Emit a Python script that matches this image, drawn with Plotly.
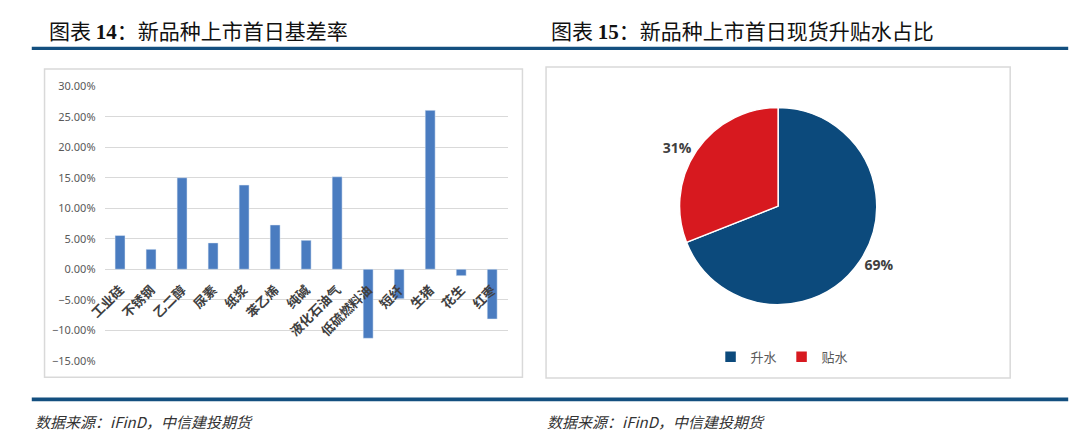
import plotly.graph_objects as go

# dados do gráfico 14: base no primeiro dia de listagem
categorias = ['工业硅', '不锈钢', '乙二醇', '尿素', '纸浆', '苯乙烯', '纯碱',
              '液化石油气', '低硫燃料油', '短纤', '生猪', '花生', '红枣']
base_pct = [0.0553, 0.0326, 0.1500, 0.0432, 0.1380, 0.0726, 0.0474,
            0.1516, -0.1132, -0.0484, 0.2605, -0.0105, -0.0816]

# dados do gráfico 15: proporção premium / desconto
rotulos_pie = ['升水', '贴水']
valores_pie = [69, 31]

W, H = 1080, 446


def px(x):
    return x / W


def py(y):
    return 1 - y / H


fig = go.Figure()

fig.add_trace(go.Bar(
    x=categorias, y=base_pct,
    marker_color='#4a7cc0',
    showlegend=False,
    xaxis='x', yaxis='y',
))

fig.add_trace(go.Pie(
    labels=rotulos_pie, values=valores_pie,
    sort=False, direction='clockwise', rotation=0,
    marker=dict(colors=['#0c4a7c', '#d7191f'], line=dict(color='white', width=1.5)),
    textinfo='percent', textposition='outside',
    texttemplate='%{percent:.0%}',
    textfont=dict(family='Open Sans', size=14, color='#404040', weight='bold'),
    domain=dict(x=[px(671), px(875)], y=[py(307), py(103)]),
    hoverinfo='label+percent',
))

fig.update_layout(
    width=W, height=H,
    margin=dict(l=0, r=0, t=0, b=0),
    paper_bgcolor='white', plot_bgcolor='white',
    bargap=0.68,
    xaxis=dict(
        domain=[px(88), px(498)],
        anchor='free', position=py(270),
        tickangle=-45, showgrid=False, showline=False, ticks='',
        ticklabelstandoff=10,
        tickfont=dict(family='Noto Sans CJK SC', size=13, color='#404040', weight='bold'),
    ),
    yaxis=dict(
        domain=[py(365), py(81)],
        range=[-0.15, 0.30], dtick=0.05, tickformat='.2%',
        showgrid=True, gridcolor='#d9d9d9', gridwidth=1,
        zeroline=True, zerolinecolor='#d9d9d9', zerolinewidth=1,
        showline=False, ticks='', ticklabelstandoff=8,
        tickfont=dict(family='Noto Sans', size=11, color='#595959'),
    ),
    legend=dict(
        orientation='h', x=px(777), xanchor='center', y=py(361), yanchor='middle',
        font=dict(family='Noto Sans CJK SC', size=13, color='#595959'),
        itemwidth=30, tracegroupgap=0,
    ),
)

# molduras e linhas azuis
fig.add_shape(type='rect', xref='paper', yref='paper',
              x0=px(27), x1=px(513), y0=py(382), y1=py(63),
              line=dict(color='#d9d9d9', width=1.5), layer='below')
fig.add_shape(type='rect', xref='paper', yref='paper',
              x0=px(537), x1=px(1009), y0=py(383), y1=py(61),
              line=dict(color='#d9d9d9', width=1.5), layer='below')
fig.add_shape(type='rect', xref='paper', yref='paper',
              x0=px(14), x1=px(1068), y0=py(43.5), y1=py(40),
              fillcolor='#134f7f', line=dict(width=0))
fig.add_shape(type='rect', xref='paper', yref='paper',
              x0=px(14), x1=px(1068), y0=py(407), y1=py(403),
              fillcolor='#134f7f', line=dict(width=0))

# títulos e fontes (largura fixa para o texto ficar colado à esquerda)
num_style = "font-family:Liberation Serif;font-weight:bold"
titulos = [
    (30, f"图表 <span style='{num_style}'>14</span>：新品种上市首日基差率"),
    (541, f"图表 <span style='{num_style}'>15</span>：新品种上市首日现货升贴水占比"),
]
for x0, txt in titulos:
    fig.add_annotation(text=txt, x=px(x0), y=py(23), xref='paper', yref='paper',
                       xanchor='left', yanchor='middle', showarrow=False,
                       width=470, height=30, align='left', valign='middle', borderpad=0,
                       font=dict(family='Noto Sans CJK SC', size=21, color='#111111'))

for x0 in (16, 537):
    fig.add_annotation(text='<i>数据来源：iFinD，中信建投期货</i>', x=px(x0), y=py(427),
                       xref='paper', yref='paper', xanchor='left', yanchor='middle',
                       showarrow=False,
                       width=400, height=22, align='left', valign='middle', borderpad=0,
                       font=dict(family='Noto Sans CJK SC', size=15, color='#333333'))

fig.write_html("out.html", config={'displayModeBar': False},
               post_script="document.body.style.margin='0';document.body.style.overflow='hidden';")
